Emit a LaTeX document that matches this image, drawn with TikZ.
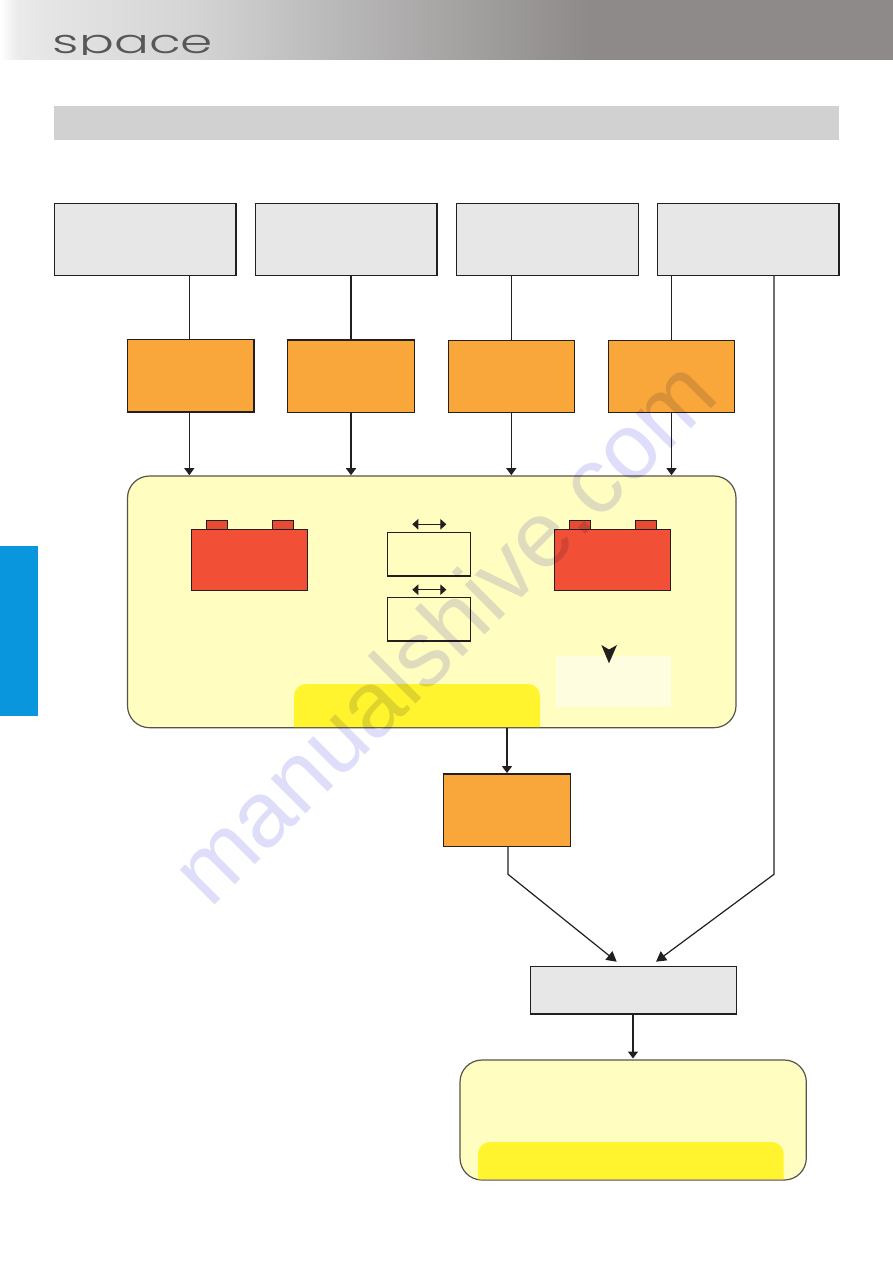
\documentclass[tikz,border=0pt]{standalone}
\usepackage{fontspec}
\usepackage{graphicx}
\usetikzlibrary{arrows.meta}
\setmainfont{Liberation Sans}
\newfontfamily\logofont{Poppins Light}
\definecolor{inkc}{HTML}{231F20}
\definecolor{panelc}{HTML}{FFFDC0}
\definecolor{panelline}{HTML}{55534A}
\definecolor{grayc}{HTML}{E7E7E7}
\definecolor{orangec}{HTML}{F9A63A}
\definecolor{redc}{HTML}{F25036}
\definecolor{tabc}{HTML}{FFF42E}
\definecolor{titlec}{HTML}{D1D1D1}
\definecolor{bluec}{HTML}{0A96DC}
\definecolor{paleboxc}{HTML}{FFFDDF}
\definecolor{markc}{HTML}{DEDEFB}
\definecolor{hdmid}{HTML}{A7A4A4}
\definecolor{hdend}{HTML}{8E8A8A}
\pgfdeclarehorizontalshading{headershade}{100bp}{
 color(0bp)=(white); color(25bp)=(white); color(26bp)=(white!92!black);
 color(27.5bp)=(white!90!black); color(36bp)=(white!83!black); color(41.8bp)=(white!75!black);
 color(50bp)=(hdmid); color(58bp)=(hdend); color(75bp)=(hdend); color(100bp)=(hdend)}
\tikzset{
 boxbase/.style={rectangle,inner sep=0pt,outer sep=0pt,draw=inkc},
 graybox/.style={boxbase,fill=grayc,line width=1.2pt,minimum width=181.5pt,minimum height=72pt},
 orangebox/.style={boxbase,fill=orangec,line width=1.1pt,minimum width=126.8pt,minimum height=72.4pt},
 panelbox/.style={boxbase,draw=panelline,fill=panelc,line width=1.2pt,rounded corners=22pt},
 redbox/.style={boxbase,fill=redc,line width=1.2pt,minimum width=116pt,minimum height=60.5pt},
 termbox/.style={boxbase,fill=redc!95!black,line width=1.2pt,minimum width=21.4pt,minimum height=9.7pt},
 smallbox/.style={boxbase,line width=1.2pt,minimum width=83.4pt,minimum height=43.7pt},
 flowline/.style={draw=inkc,line width=1pt},
 heavyline/.style={draw=inkc,line width=1.6pt},
 headtip/.style={-{Triangle[length=7pt,width=10pt,inkc]}},
 twotip/.style={{Triangle[length=6pt,width=10.5pt,inkc]}-{Triangle[length=6pt,width=10.5pt,inkc]},draw=inkc,line width=.9pt}
}
\begin{document}
\begin{tikzpicture}[x=1pt,y=-1pt]
\useasboundingbox (0,0) rectangle (893,1263);
\fill[white] (0,0) rectangle (893,1263);
\shade[shading=headershade] (0,0) rectangle (893,60);
\begin{scope}
\clip (40,20) rectangle (240,54.6);
\node[inner sep=0pt,anchor=base west,text=black!66] (logo) at (52.5,54) {\scalebox{1.57}[1]{\logofont\fontsize{33pt}{33pt}\selectfont space}};
\end{scope}
\fill[titlec] (54,106) rectangle (839,140);
\fill[bluec] (0,546) rectangle (38,716);

\coordinate (c1) at (189.3,0);
\coordinate (c2) at (351,0);
\coordinate (c3) at (511.3,0);
\coordinate (c4) at (671.5,0);
\coordinate (c5) at (774,0);
\coordinate (c6) at (507,0);
\coordinate (c7) at (508,0);
\coordinate (c8) at (633,0);

\node[graybox,line width=1.5pt] (g1) at (145.4,239.3) {};
\node[graybox] (g2) at (346.3,239.3) {};
\node[graybox] (g3) at (547.5,239.3) {};
\node[graybox] (g4) at (748.3,239.3) {};
\node[orangebox,line width=1.7pt] (o1) at (190.8,375.8) {};
\node[orangebox,line width=1.4pt] (o2) at (351,376.3) {};
\node[orangebox] (o3) at (511.5,376.3) {};
\node[orangebox] (o4) at (671.5,376.3) {};

% main panel
\node[panelbox,minimum height=251.7pt,minimum width=608.5pt] (p1) at (431.75,601.85) {};
\fill[tabc] (294,727.1) [rounded corners=12pt] -- (294,684) -- (540,684) [sharp corners] -- (540,727.1) -- cycle;
\fill[paleboxc] (555.7,656) rectangle (671,706.7);
\node[termbox] (t1) at (217,525.2) {};
\node[termbox] (t2) at (283,525.2) {};
\node[redbox] (r1) at (249.7,560) {};
\node[termbox] (t3) at (580,525.2) {};
\node[termbox] (t4) at (646,525.2) {};
\node[redbox] (r2) at (612.7,560) {};
\node[smallbox] (s1) at (429,554.2) {};
\node[smallbox] (s2) at (429,619.2) {};
\coordinate (a1l) at (412.3,524.3);
\coordinate (a1r) at (446.3,524.3);
\coordinate (a2l) at (412.3,589.7);
\coordinate (a2r) at (446.3,589.7);
\draw[twotip] (a1l) -- (a1r);
\draw[twotip] (a2l) -- (a2r);
\fill[inkc] (601.3,645) -- (609,649.5) -- (617,645) -- (609,663.3) -- cycle;

\node[orangebox,line width=1.4pt] (o5) at (507,810.3) {};
\node[boxbase,fill=grayc,line width=1.4pt,minimum width=206pt,minimum height=47.3pt] (g5) at (633.3,990.3) {};
\node[panelbox,minimum width=346.3pt,minimum height=120pt] (p2) at (633.15,1120) {};
\fill[tabc] (478,1179.4) [rounded corners=12pt] -- (478,1142) -- (783.7,1142) [sharp corners] -- (783.7,1179.4) -- cycle;

% connectors
\draw[flowline] (g1.south -| c1) -- (o1.north -| c1);
\draw[heavyline] (g2.south -| c2) -- (o2.north -| c2);
\draw[flowline] (g3.south -| c3) -- (o3.north -| c3);
\draw[flowline] (g4.south -| c4) -- (o4.north -| c4);
\draw[flowline,headtip] (o1.south -| c1) -- ([yshift=.8pt]p1.north -| c1);
\draw[heavyline,headtip] (o2.south -| c2) -- ([yshift=.8pt]p1.north -| c2);
\draw[flowline,headtip] (o3.south -| c3) -- ([yshift=.8pt]p1.north -| c3);
\draw[flowline,headtip] (o4.south -| c4) -- ([yshift=.8pt]p1.north -| c4);
\draw[heavyline,headtip] (p1.south -| c6) -- ([yshift=1pt]o5.north -| c6);
\coordinate (b1) at (508,874.3);
\coordinate (b2) at (774,874.3);
\coordinate (e1) at (616.7,961.7);
\coordinate (e2) at (656,961.7);
\draw[flowline,line width=1.2pt,-{Triangle[length=10pt,width=11pt,inkc]}] (o5.south -| c7) -- (b1) -- (e1);
\draw[flowline,line width=1.2pt,-{Triangle[length=10pt,width=11pt,inkc]}] (g4.south -| c5) -- (b2) -- (e2);
\draw[heavyline,headtip] (g5.south -| c8) -- ([yshift=1.5pt]p2.north -| c8);

% watermark
\begin{scope}[blend mode=multiply]
\node[rotate=45,anchor=base west,inner sep=0pt,text=markc,font=\fontsize{93pt}{93pt}\selectfont] (mark) at (210,910) {manualshive.com};
\end{scope}
\end{tikzpicture}
\end{document}
